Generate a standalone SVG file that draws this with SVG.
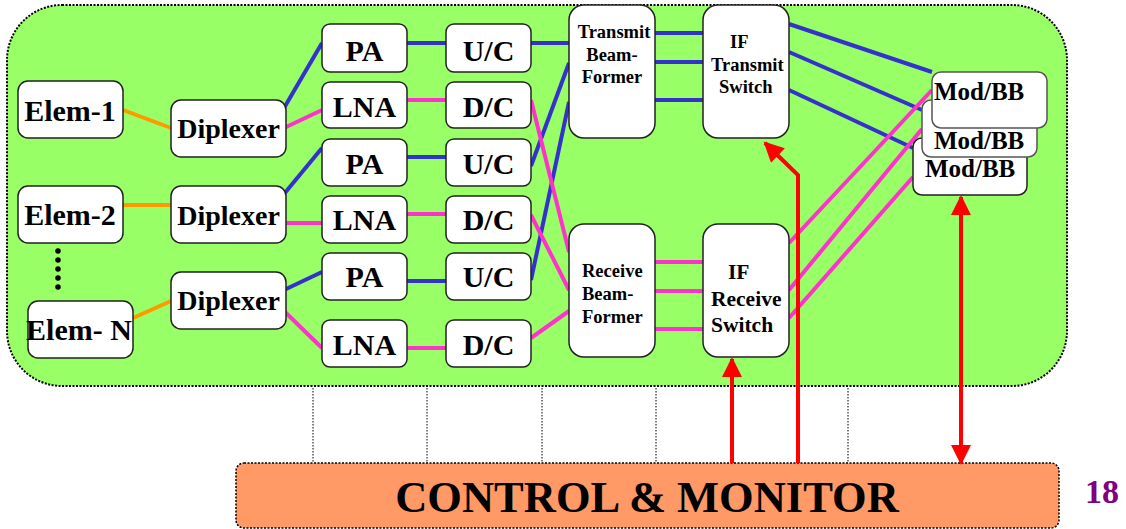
<svg xmlns="http://www.w3.org/2000/svg" width="1126" height="529" viewBox="0 0 1126 529">
<defs>
<style>
.n rect{fill:#fff;stroke:#222;stroke-width:1.5}
text{font-family:"Liberation Serif","Times New Roman",serif;font-weight:bold;fill:#000}
.b{stroke:#3333CC;stroke-width:4;fill:none}
.p{stroke:#FF33CC;stroke-width:4;fill:none}
.o{stroke:#FF9900;stroke-width:4;fill:none}
.r{stroke:#FF0000;stroke-width:4;fill:none}
.big{font-size:30px;text-anchor:middle}
.dip{font-size:28px;text-anchor:middle}
.sm{font-size:18.5px}
.mb{font-size:25px}
.v{stroke:#000;stroke-width:1;stroke-dasharray:1.5 1.5}
</style>
<marker id="ah" viewBox="0 0 10 10" refX="9" refY="5" markerWidth="5.5" markerHeight="5" orient="auto-start-reverse" markerUnits="strokeWidth"><path d="M0,0 L10,5 L0,10 z" fill="#FF0000"/></marker>
</defs>
<rect x="7" y="5" width="1060" height="381" rx="55" ry="55" fill="#99FF66" stroke="#000" stroke-width="2" stroke-dasharray="2 1.5"/>
<g id="verticals">
<line class="v" x1="313" y1="388" x2="313" y2="463" stroke-dasharray="4 2"/>
<line class="v" x1="427" y1="388" x2="427" y2="463"/>
<line class="v" x1="542" y1="388" x2="542" y2="463"/>
<line class="v" x1="656" y1="388" x2="656" y2="463"/>
<line class="v" x1="848" y1="388" x2="848" y2="463"/>
</g>
<g id="connectors">
<line class="o" x1="123" y1="110" x2="171" y2="128"/>
<line class="o" x1="123" y1="205" x2="171" y2="205"/>
<line class="o" x1="133" y1="318" x2="171" y2="301"/>
<line class="b" x1="284" y1="108" x2="322" y2="43"/>
<line class="p" x1="284" y1="128" x2="322" y2="110"/>
<line class="b" x1="284" y1="194" x2="322" y2="148"/>
<line class="p" x1="284" y1="223" x2="322" y2="223"/>
<line class="b" x1="284" y1="290" x2="322" y2="272"/>
<line class="p" x1="284" y1="311" x2="322" y2="348"/>
<line class="b" x1="407" y1="43" x2="446" y2="43"/>
<line class="b" x1="407" y1="157" x2="446" y2="157"/>
<line class="b" x1="407" y1="281" x2="446" y2="281"/>
<line class="p" x1="407" y1="100" x2="446" y2="100"/>
<line class="p" x1="407" y1="214" x2="446" y2="214"/>
<line class="p" x1="407" y1="348" x2="446" y2="348"/>
<line class="b" x1="531" y1="43" x2="569" y2="43"/>
<line class="b" x1="531" y1="166" x2="569" y2="63"/>
<line class="b" x1="531" y1="280" x2="569" y2="102"/>
<line class="p" x1="531" y1="100" x2="569" y2="252"/>
<line class="p" x1="531" y1="215" x2="569" y2="290"/>
<line class="p" x1="531" y1="338" x2="569" y2="311"/>
<line class="b" x1="655" y1="33" x2="703" y2="33"/>
<line class="b" x1="655" y1="62" x2="703" y2="62"/>
<line class="b" x1="655" y1="100" x2="703" y2="100"/>
<line class="p" x1="655" y1="262" x2="703" y2="262"/>
<line class="p" x1="655" y1="291" x2="703" y2="291"/>
<line class="p" x1="655" y1="329" x2="703" y2="329"/>
<line class="b" x1="789" y1="24" x2="932" y2="72"/>
<line class="b" x1="789" y1="52" x2="922" y2="110"/>
<line class="b" x1="789" y1="90" x2="913" y2="148"/>
<line class="p" x1="789" y1="243" x2="932" y2="90"/>
<line class="p" x1="789" y1="290" x2="922" y2="129"/>
<line class="p" x1="789" y1="318" x2="913" y2="177"/>
<line x1="58" y1="251" x2="58" y2="296" stroke="#000" stroke-width="5.5" stroke-linecap="round" stroke-dasharray="0 9"/>
</g>
<g id="elem1" class="n"><rect x="18" y="81" width="105" height="57" rx="10"/><text class="big" x="70" y="121">Elem-1</text></g>
<g id="elem2" class="n"><rect x="18" y="186" width="105" height="57" rx="10"/><text class="big" x="70" y="225">Elem-2</text></g>
<g id="elemN" class="n"><rect x="28" y="301" width="105" height="57" rx="10"/><text class="big" x="79" y="340">Elem- N</text></g>
<g id="dip1" class="n"><rect x="171" y="100" width="115" height="57" rx="10"/><text class="dip" x="228.5" y="138">Diplexer</text></g>
<g id="dip2" class="n"><rect x="171" y="186" width="115" height="57" rx="10"/><text class="dip" x="228.5" y="225">Diplexer</text></g>
<g id="dip3" class="n"><rect x="171" y="272" width="115" height="57" rx="10"/><text class="dip" x="228.5" y="310">Diplexer</text></g>
<g id="pa1" class="n"><rect x="322" y="24" width="85" height="48" rx="8"/><text class="big" x="364.5" y="61">PA</text></g>
<g id="lna1" class="n"><rect x="322" y="82" width="85" height="46" rx="8"/><text class="big" x="364.5" y="117">LNA</text></g>
<g id="pa2" class="n"><rect x="322" y="139" width="85" height="47" rx="8"/><text class="big" x="364.5" y="174">PA</text></g>
<g id="lna2" class="n"><rect x="322" y="196" width="85" height="47" rx="8"/><text class="big" x="364.5" y="230">LNA</text></g>
<g id="pa3" class="n"><rect x="322" y="253" width="85" height="47" rx="8"/><text class="big" x="364.5" y="287">PA</text></g>
<g id="lna3" class="n"><rect x="322" y="320" width="85" height="47" rx="8"/><text class="big" x="364.5" y="355">LNA</text></g>
<g id="uc1" class="n"><rect x="446" y="24" width="85" height="48" rx="8"/><text class="big" x="488.5" y="61">U/C</text></g>
<g id="dc1" class="n"><rect x="446" y="82" width="85" height="46" rx="8"/><text class="big" x="488.5" y="117">D/C</text></g>
<g id="uc2" class="n"><rect x="446" y="139" width="85" height="47" rx="8"/><text class="big" x="488.5" y="174">U/C</text></g>
<g id="dc2" class="n"><rect x="446" y="196" width="85" height="47" rx="8"/><text class="big" x="488.5" y="230">D/C</text></g>
<g id="uc3" class="n"><rect x="446" y="253" width="85" height="47" rx="8"/><text class="big" x="488.5" y="287">U/C</text></g>
<g id="dc3" class="n"><rect x="446" y="320" width="85" height="47" rx="8"/><text class="big" x="488.5" y="355">D/C</text></g>
<g id="txbf" class="n"><rect x="569" y="5" width="86" height="133" rx="15"/><text class="sm" text-anchor="middle"><tspan x="614" y="38">Transmit</tspan><tspan x="612" y="61">Beam-</tspan><tspan x="612" y="83">Former</tspan></text></g>
<g id="ifts" class="n"><rect x="703" y="5" width="86" height="133" rx="15"/><text class="sm"><tspan x="730" y="48">IF</tspan><tspan x="711" y="71">Transmit</tspan><tspan x="719" y="93">Switch</tspan></text></g>
<g id="rxbf" class="n"><rect x="569" y="224" width="86" height="133" rx="15"/><text class="sm"><tspan x="582" y="277">Receive</tspan><tspan x="582" y="300">Beam-</tspan><tspan x="582" y="323">Former</tspan></text></g>
<g id="ifrs" class="n"><rect x="703" y="224" width="86" height="133" rx="15"/><text style="font-size:21.5px"><tspan x="728" y="279">IF</tspan><tspan x="711" y="306">Receive</tspan><tspan x="711" y="332">Switch</tspan></text></g>
<g id="modbb3" class="n"><rect x="913" y="138" width="114" height="57" rx="9"/><text class="mb" x="925" y="177">Mod/BB</text></g>
<g id="modbb2" class="n"><rect x="922" y="100" width="115" height="57" rx="9" style="stroke:#555"/><text class="mb" x="934" y="149">Mod/BB</text></g>
<g id="modbb1" class="n"><rect x="932" y="72" width="115" height="56" rx="9" style="stroke:#555"/><text class="mb" x="934" y="100">Mod/BB</text></g>
<g id="control"><rect x="236" y="463" width="823" height="65" rx="8" fill="#FF9966" stroke="#000" stroke-width="1.5" stroke-dasharray="2 1.5"/><text x="647" y="512" text-anchor="middle" style="font-size:44.5px">CONTROL &amp; MONITOR</text></g>
<g id="arrows">
<polyline class="r" points="798,463 798,175 765,143" marker-end="url(#ah)"/>
<line class="r" x1="732" y1="463" x2="732" y2="359" marker-end="url(#ah)"/>
<line class="r" x1="961" y1="463" x2="961" y2="197" marker-start="url(#ah)" marker-end="url(#ah)"/>
</g>
<text x="1102" y="503" text-anchor="middle" style="font-size:34px;fill:#800080">18</text>
</svg>
